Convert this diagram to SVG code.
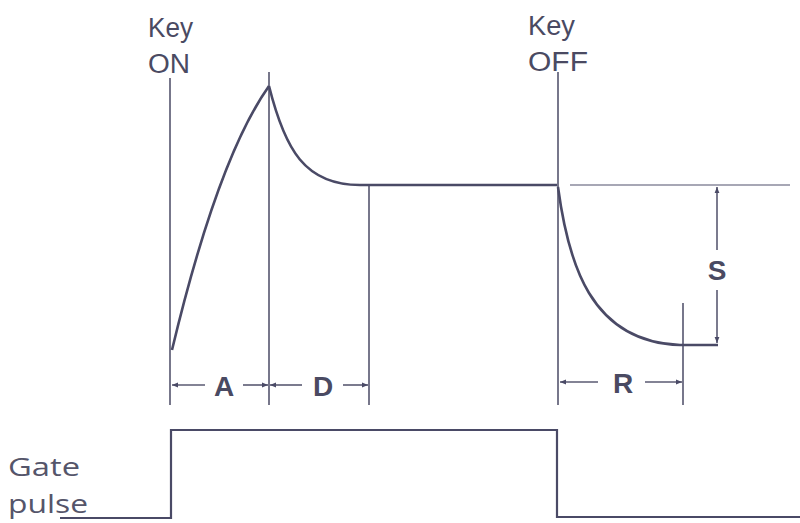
<svg xmlns="http://www.w3.org/2000/svg" width="800" height="523" viewBox="0 0 800 523">
<defs>
<style>
.ln{stroke:#55556e;stroke-width:1.6;fill:none}
.crv{stroke:#4a4a66;stroke-width:2.6;fill:none}
.lt{stroke:#8a8a9c;stroke-width:1.6;fill:none}
.dim{stroke:#5a5a72;stroke-width:1.6;fill:none}
.lbl{font-family:"Liberation Sans",Arial,sans-serif;font-size:27px;fill:#4a4a62}
.big{font-family:"Liberation Sans",Arial,sans-serif;font-size:28px;font-weight:bold;fill:#4a4a62;text-anchor:middle}
.gate{font-family:"Open Sans","Liberation Sans",sans-serif;font-size:26px;fill:#55556a}
</style>
<marker id="ah" viewBox="0 0 10 10" refX="10" refY="5" markerWidth="7" markerHeight="6" orient="auto-start-reverse" markerUnits="userSpaceOnUse">
<path d="M0,1 L10,5 L0,9 Z" fill="#4a4a66"/>
</marker>
</defs>
<rect width="800" height="523" fill="#ffffff"/>
<g id="labels">
<text class="lbl" x="148" y="37" textLength="45" lengthAdjust="spacingAndGlyphs">Key</text>
<text class="lbl" x="148" y="73" textLength="42" lengthAdjust="spacingAndGlyphs">ON</text>
<text class="lbl" x="528" y="35" textLength="47" lengthAdjust="spacingAndGlyphs">Key</text>
<text class="lbl" x="528" y="71" textLength="60" lengthAdjust="spacingAndGlyphs">OFF</text>
<text class="gate" x="8" y="476" textLength="72" lengthAdjust="spacingAndGlyphs">Gate</text>
<text class="gate" x="8" y="513" textLength="80" lengthAdjust="spacingAndGlyphs">pulse</text>
</g>
<g id="guides">
<line class="ln" x1="170" y1="78" x2="170" y2="405"/>
<line class="ln" x1="269" y1="72" x2="269" y2="405"/>
<line class="ln" x1="369" y1="185" x2="369" y2="405"/>
<line class="ln" x1="558" y1="72" x2="558" y2="405"/>
<line class="ln" x1="683" y1="303" x2="683" y2="405"/>
<line class="lt" x1="570" y1="185" x2="790" y2="185"/>
</g>
<g id="envelope">
<path class="crv" d="M172,350 Q218,158 269,86"/>
<path class="crv" d="M269,86 C285,150 305,185 360,185 L557,185"/>
<path class="crv" d="M558,187 C568,262 590,342 680,345 L718,345"/>
</g>
<g id="connectors">
<line class="dim" x1="172" y1="385" x2="205" y2="385" marker-start="url(#ah)"/>
<line class="dim" x1="243" y1="385" x2="268" y2="385" marker-end="url(#ah)"/>
<line class="dim" x1="270" y1="385" x2="302" y2="385" marker-start="url(#ah)"/>
<line class="dim" x1="343" y1="385" x2="368" y2="385" marker-end="url(#ah)"/>
<line class="dim" x1="560" y1="382" x2="598" y2="382" marker-start="url(#ah)"/>
<line class="dim" x1="645" y1="382" x2="682" y2="382" marker-end="url(#ah)"/>
<line class="dim" x1="717" y1="187" x2="717" y2="250" marker-start="url(#ah)"/>
<line class="dim" x1="717" y1="290" x2="717" y2="343" marker-end="url(#ah)"/>
</g>
<g id="dimlabels">
<text class="big" x="224" y="396">A</text>
<text class="big" x="323" y="396">D</text>
<text class="big" x="623" y="393">R</text>
<text class="big" x="717" y="280">S</text>
</g>
<g id="gatepulse">
<path class="crv" style="stroke-width:2.2" d="M60,518 L171,518 L171,430 L557,430 L557,517 L800,517"/>
</g>
</svg>
